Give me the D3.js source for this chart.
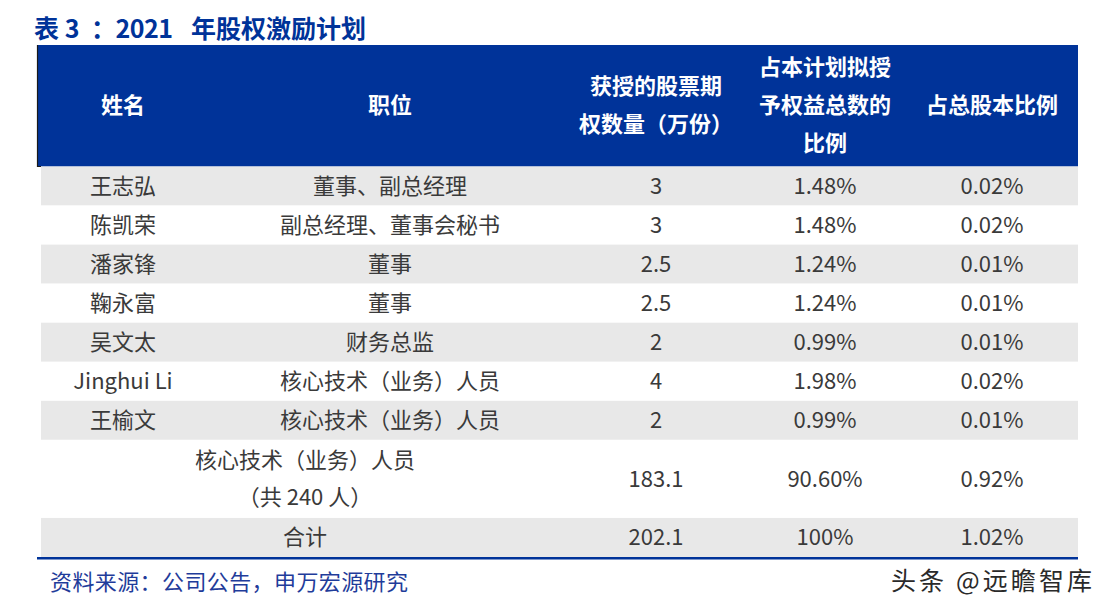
<!DOCTYPE html>
<html>
<head>
<meta charset="utf-8">
<script src="https://cdn.jsdelivr.net/npm/d3@7"></script>
<style>
  body { margin: 0; background: #fff; }
  svg text { font-family: "Noto Sans CJK SC", "Noto Sans", sans-serif; }
</style>
</head>
<body>
<div id="chart"></div>
<script>
// table content
var titleParts = ["表 3", "：2021", "年股权激励计划"];
var headers = [
  ["姓名"],
  ["职位"],
  ["获授的股票期", "权数量（万份）"],
  ["占本计划拟授", "予权益总数的", "比例"],
  ["占总股本比例"]
];
var names = ["王志弘", "陈凯荣", "潘家锋", "鞠永富", "吴文太", "Jinghui Li", "王榆文"];
var positions = ["董事、副总经理", "副总经理、董事会秘书", "董事", "董事", "财务总监", "核心技术（业务）人员", "核心技术（业务）人员"];
var shares = ["3", "3", "2.5", "2.5", "2", "4", "2"];
var planPct = ["1.48%", "1.48%", "1.24%", "1.24%", "0.99%", "1.98%", "0.99%"];
var totalPct = ["0.02%", "0.02%", "0.01%", "0.01%", "0.01%", "0.02%", "0.01%"];
var otherLabel = ["核心技术（业务）人员", "（共 240 人）"];
var otherRow = ["183.1", "90.60%", "0.92%"];
var sumLabel = ["合计"];
var sumRow = ["202.1", "100%", "1.02%"];
var source = "资料来源：公司公告，申万宏源研究";
var watermark = "头条 @远瞻智库";

var width = 1111, height = 616;
var blue = "#003399", grey = "#e8e8e8", ink = "#3a3a3a";

// rows: label lines spanning first columns + values
var rows = names.map(function(n, i) {
  return {first: [n], second: [positions[i]], vals: [shares[i], planPct[i], totalPct[i]], span: false};
});
rows.push({first: otherLabel, second: null, vals: otherRow, span: true});
rows.push({first: sumLabel, second: null, vals: sumRow, span: true});
var units = 0;
rows.forEach(function(r) { r.start = units; r.size = r.first.length; units += r.size; });

var svg = d3.select("#chart").append("svg")
    .attr("width", width)
    .attr("height", height);

// column centres and row units
var colX = d3.scaleOrdinal().domain([0, 1, 2, 3, 4]).range([123, 390, 656, 825, 992]);
var spanX = 305;
var y = d3.scaleLinear().domain([0, units]).range([166.5, 557]);
var left = 41, right = 1078;

// title, pieces placed to match the original spacing
var titleX = [34, 91, 191];
var titleW = [null, 82, null];
svg.append("text")
    .attr("y", 38)
    .attr("fill", blue)
    .attr("font-size", 25).attr("font-weight", "bold")
  .selectAll("tspan").data(titleParts).enter().append("tspan")
    .attr("x", function(d, i) { return titleX[i]; })
    .attr("textLength", function(d, i) { return titleW[i]; })
    .text(function(d) { return d; });

// header
svg.append("rect")
    .attr("x", 38).attr("y", 45)
    .attr("width", right - 38).attr("height", 121.5)
    .attr("fill", blue);
svg.append("path")
    .attr("d", "M37.5,45V166.5H41")
    .attr("stroke", "#1a1a1a").attr("fill", "none").attr("stroke-width", 1.2);

var hg = svg.selectAll(".head").data(headers).enter().append("text")
    .attr("class", "head")
    .attr("fill", "#fff")
    .attr("font-size", 22).attr("font-weight", "bold")
    .attr("text-anchor", "middle");
hg.selectAll("tspan").data(function(d, i) {
    return d.map(function(t, j) { return {t: t, i: i, j: j, n: d.length}; });
  }).enter().append("tspan")
    .attr("x", function(d) { return colX(d.i); })
    .attr("y", function(d) { return 105 + (d.j - (d.n - 1) / 2) * 38; })
    .attr("dy", "0.36em")
    .text(function(d) { return d.t; });

// body rows
var rg = svg.selectAll(".row").data(rows).enter().append("g").attr("class", "row");
rg.append("rect")
    .attr("x", left)
    .attr("y", function(d) { return y(d.start); })
    .attr("width", right - left)
    .attr("height", function(d) { return y(d.start + d.size) - y(d.start); })
    .attr("fill", function(d, i) { return i % 2 === 0 ? grey : "#fff"; });

rg.each(function(d) {
  var g = d3.select(this);
  var mid = (y(d.start) + y(d.start + d.size)) / 2;
  var lineH = 37;
  var cells = [];
  d.first.forEach(function(t, j) {
    cells.push({x: d.span ? spanX : colX(0), y: mid + (j - (d.first.length - 1) / 2) * lineH, t: t});
  });
  if (d.second) cells.push({x: colX(1), y: mid, t: d.second[0]});
  d.vals.forEach(function(v, k) { cells.push({x: colX(k + 2), y: mid, t: v}); });
  g.selectAll("text").data(cells).enter().append("text")
      .attr("x", function(c) { return c.x; })
      .attr("y", function(c) { return c.y; })
      .attr("dy", "0.36em")
      .attr("text-anchor", "middle")
      .attr("font-size", 22)
      .attr("fill", ink)
      .text(function(c) { return c.t; });
});

// bottom rule
svg.append("rect")
    .attr("x", 37).attr("y", y(units))
    .attr("width", right - 37).attr("height", 2.5)
    .attr("fill", blue);

// footer
svg.append("text")
    .attr("x", 50).attr("y", 590)
    .attr("fill", "#1f3c9a")
    .attr("font-size", 22)
    .attr("textLength", 358)
    .text(source);
svg.append("text")
    .attr("x", 891).attr("y", 590)
    .attr("fill", "#2a2a2a")
    .attr("font-size", 25)
    .attr("textLength", 201)
    .text(watermark);
</script>
</body>
</html>
